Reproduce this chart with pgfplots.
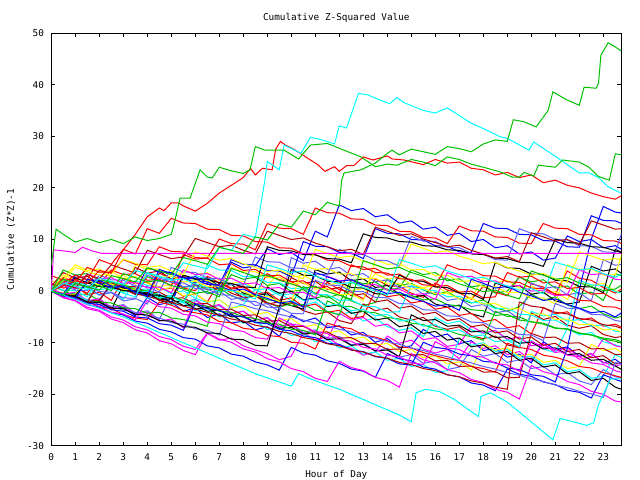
\documentclass[border=0pt]{standalone}
\usepackage{fontspec}
\setmainfont{DejaVu Sans Mono}
\usepackage{pgfplots}
\pgfplotsset{compat=1.18}
\definecolor{gred}{HTML}{FF0000}
\definecolor{ggreen}{HTML}{00C000}
\definecolor{gblue}{HTML}{0000FF}
\definecolor{gmag}{HTML}{FF00FF}
\definecolor{gcyan}{HTML}{00FFFF}
\definecolor{gdred}{HTML}{B00000}
\definecolor{gyel}{HTML}{FFFF00}
\definecolor{gblack}{HTML}{000000}
\definecolor{glblue}{HTML}{6060FF}
\newcommand{\W}[2]{\addplot[#1] table[x expr=\coordindex*0.5, y index=0, header=false, row sep=\\] {#2};}
\newcommand{\gfont}{\fontsize{9.4}{11}\selectfont}
\begin{document}
\gfont
\begin{tikzpicture}
\useasboundingbox (0,0) rectangle (640bp,480bp);
\begin{axis}[at={(51.3bp,34bp)}, anchor=south west, scale only axis,
  width=570bp, height=413bp,
  xmin=0, xmax=23.75, ymin=-30, ymax=50,
  xtick={0,...,23}, ytick={-30,-20,-10,0,10,20,30,40,50},
  yticklabels={-30,-20,-10,0,10,20,30,40,50},
  /pgf/number format/assume math mode=true,
  tick align=inside, major tick length=4bp,
  every tick/.style={black, line width=1bp},
  axis line style={line width=1bp},
  tick label style={font=\gfont},
  xticklabel style={yshift=-4bp},
  yticklabel style={xshift=-4bp},
  title={Cumulative Z-Squared Value},
  title style={font=\gfont, at={(axis description cs:0.5,1.022)}, anchor=center},
  xlabel={Hour of Day},
  xlabel style={font=\gfont, at={(axis description cs:0.5,-0.07)}, anchor=center},
  ylabel={Cumulative (Z*Z)-1},
  ylabel style={font=\gfont, at={(axis description cs:-0.071,0.5)}, anchor=center},
  every axis plot/.append style={line width=1bp, mark=none},
]
% background walks, half-hour steps
\W{gred}{0.8\\1.9\\0.7\\-0.4\\2.6\\1.3\\0.9\\-0.5\\3.6\\2.1\\1.8\\0.6\\0.1\\2.9\\1.6\\0.4\\0.8\\-0.7\\3.4\\2.2\\1.9\\0.5\\-0.6\\1.7\\0.3\\-0.2\\-1.5\\2.4\\1.1\\0.9\\-0.4\\-1.2\\1.6\\0.2\\-0.3\\-1.6\\0.9\\-0.2\\-0.9\\2.8\\1.4\\0.8\\-0.6\\3.9\\2.5\\2.1\\0.7\\-0.4\\1.2\\}
\W{ggreen}{1\\0.1\\-0.9\\-0.5\\-1.8\\1.2\\0.4\\0.9\\-0.6\\-1.5\\-0.8\\-2.1\\1.4\\0.2\\0.6\\-0.9\\-1.6\\-0.8\\-2.2\\-3.1\\-2.4\\0.9\\-0.4\\-1.3\\-0.6\\-1.9\\-2.8\\-2.2\\2.4\\1.1\\1.5\\0.2\\-0.7\\-0.1\\-1.5\\-2.3\\-1.7\\-3.2\\-3.9\\-3\\-0.6\\-1.8\\-1.1\\-2.7\\-3.4\\-2.9\\-4.4\\-5.2\\-4.6\\}
\W{gblue}{0\\-1.1\\-0.6\\-2.3\\-1.8\\-3.5\\-3.1\\-4.8\\-1.2\\-2.6\\-2.1\\-3.9\\-3.3\\-5.1\\-4.4\\-6.2\\-5.8\\-7.5\\-6.9\\-8.8\\-4.6\\-5.9\\-5.2\\-7.1\\-6.7\\-8.5\\-8\\-9.9\\-9.2\\-11\\-10.6\\-7.4\\-8.9\\-8.3\\-10.2\\-9.6\\-11.5\\-11.1\\-12.8\\-12.2\\-13.9\\-9.8\\-11.3\\-10.8\\-12.6\\-12.1\\-13.9\\-13.2\\-15\\}
\W{gmag}{0\\-1.3\\-1.9\\-3.4\\-3.9\\-5.4\\-6.1\\-7.5\\-8.1\\-9.6\\-10.2\\-11.5\\-12.3\\-8.2\\-9.5\\-9.1\\-10.6\\-11.4\\-12.1\\-13.3\\-12.6\\-8.1\\-9.4\\-8.9\\-10.5\\-11.1\\-12.4\\-11.8\\-8.7\\-10.1\\-9.5\\-11.2\\-12\\-11.3\\-13.1\\-9.8\\-11.1\\-10.6\\-12.3\\-11.7\\-13.4\\-10.2\\-11.6\\-11\\-12.7\\-12.1\\-13.8\\-14.5\\-13.9\\}
\W{gcyan}{0.5\\1.8\\0.9\\0.6\\-0.8\\-0.2\\-1.6\\2\\1.1\\0.8\\-0.5\\0.1\\-1.4\\-2.2\\-1.7\\-3.3\\-2.6\\0.4\\-0.9\\-0.3\\-1.9\\-2.8\\-2.1\\-3.9\\-4.6\\-4\\-5.8\\-5.2\\-6.9\\-7.6\\-7.1\\-8.8\\-5.1\\-6.3\\-5.8\\-7.5\\-8.2\\-7.7\\-9.4\\-10.1\\-9.6\\-11.2\\-11.9\\-7.2\\-8.5\\-8\\-9.8\\-10.4\\-11.1\\}
\W{gdred}{0\\-0.6\\3.1\\2.2\\1.9\\0.6\\1.1\\-0.3\\-1.1\\3.5\\2.4\\2.9\\1.3\\0.6\\1.2\\-0.4\\-1.2\\-0.7\\-2.3\\-2.9\\-2.2\\-3.8\\-4.5\\-4\\-5.7\\-6.3\\-2.5\\-3.8\\-3.3\\-5\\-5.6\\-5.1\\-6.8\\-7.4\\-6.9\\-8.6\\-9.2\\-8.7\\-10.4\\-11\\-4.2\\-5.5\\-4.9\\-6.6\\-7.2\\-6.7\\-8.4\\-9\\-8.6\\}
\W{gyel}{2\\1.2\\1.6\\4.5\\3.6\\3.9\\2.4\\2.8\\1.5\\0.9\\1.3\\4.1\\3.2\\3.6\\2.1\\1.5\\1.9\\0.4\\0.8\\3.9\\2.7\\3.1\\1.8\\1.2\\1.6\\0.1\\0.5\\3.4\\2.3\\2.7\\1.3\\0.7\\1.1\\-0.4\\0\\-1.5\\2.6\\1.7\\2.1\\0.6\\1\\-0.5\\-0.1\\-1.6\\2.1\\1.1\\1.5\\0\\-0.6\\}
\W{gblack}{0\\-0.9\\-0.5\\-2.1\\1.6\\0.7\\1.1\\-0.6\\-0.1\\-1.8\\-2.4\\3.1\\2.2\\2.6\\0.9\\1.3\\-0.4\\-0.9\\-0.5\\-2.2\\-2.8\\-3.5\\4.2\\3.3\\3.7\\2\\2.4\\0.7\\1.1\\-0.6\\-1.2\\-0.8\\-2.5\\-3.1\\-2.7\\-4.4\\-5\\1.6\\0.7\\1.1\\-0.6\\-0.2\\-1.9\\-2.5\\-2.1\\4.8\\3.9\\4.3\\2.6\\}
\W{glblue}{0.2\\-0.7\\-0.3\\-1.9\\-1.5\\-3.1\\-2.6\\-4.3\\-3.8\\-5.5\\-0.8\\-2.1\\-1.6\\-3.2\\-2.8\\-4.4\\-3.9\\-5.6\\-5.1\\-6.8\\-6.3\\-8\\-7.5\\-9.2\\-8.8\\-10.4\\-10\\-11.6\\-11.1\\-12.8\\-12.3\\-14\\-13.5\\-15.2\\-14.7\\-11.3\\-12.6\\-12.1\\-13.8\\-13.3\\-15\\-14.6\\-16.2\\-15.8\\-17.4\\-18.1\\-15.2\\-16.6\\-16.9\\}
\W{gred}{1.5\\0.6\\1\\-0.7\\-0.2\\-1.8\\2.5\\1.4\\1.8\\0.2\\0.6\\-1\\-0.5\\-2.1\\1.7\\0.6\\1\\-0.6\\-0.2\\-1.8\\-1.3\\-3\\-2.5\\-4.1\\-3.7\\-5.3\\-4.9\\0.1\\-1.1\\-0.7\\-2.3\\-1.9\\-3.5\\-3.1\\-4.7\\-4.3\\-5.9\\-5.5\\-7.1\\-6.7\\-8.3\\-3.2\\-4.4\\-4\\-5.6\\-5.2\\-6.8\\-6.4\\-7.6\\}
\W{ggreen}{0\\-0.8\\-0.4\\2\\1.1\\1.5\\-0.1\\0.3\\2.8\\1.9\\2.3\\0.7\\1.1\\-0.5\\-0.1\\3.2\\2.3\\2.7\\1.1\\1.5\\-0.1\\0.3\\-1.3\\-0.9\\-2.5\\2.3\\1.4\\1.8\\0.2\\0.6\\4.1\\3.2\\3.6\\2\\2.4\\0.8\\1.2\\-0.4\\0\\2.7\\1.8\\2.2\\0.6\\1\\-0.6\\-0.2\\-1.8\\3.4\\2.5\\}
\W{gblue}{0\\-1\\-0.6\\-2.2\\-1.8\\1.3\\0.2\\0.6\\-1\\-0.6\\-2.2\\2.7\\1.6\\2\\0.4\\5.6\\4.5\\4.9\\8.2\\7.1\\7.5\\5.9\\11.6\\10.5\\16.7\\15.6\\16\\14.4\\14.8\\13.2\\13.6\\12\\12.4\\10.8\\11.2\\9.6\\10\\8.4\\8.8\\7.2\\7.6\\6\\6.4\\10.7\\9.6\\10\\8.4\\8.8\\7.4\\}
\W{gmag}{0.5\\-0.6\\-0.2\\-1.9\\-1.5\\-3.2\\-2.8\\-4.5\\-4.1\\-5.8\\-5.4\\-7.1\\-1.8\\-3.1\\-2.6\\-4.3\\-3.9\\-5.6\\-5.2\\-6.9\\-6.5\\-8.2\\-7.8\\-9.5\\-4.3\\-5.6\\-5.1\\-6.8\\-6.4\\-8.1\\-7.7\\-9.4\\-9\\-10.7\\-10.3\\-6.8\\-8.1\\-7.6\\-9.3\\-8.9\\-10.6\\-10.2\\-11.9\\-11.5\\-13.2\\-12.8\\-9.2\\-10.6\\-11\\}
\W{gcyan}{0\\-1\\-0.5\\2.1\\1\\1.4\\-0.2\\0.2\\-1.4\\-1\\-2.6\\-2.2\\-3.8\\-3.4\\-5\\-4.6\\-6.2\\-5.8\\-7.4\\-7\\-8.6\\-8.2\\-9.8\\-9.4\\-11\\-10.6\\-12.2\\-11.8\\-13.4\\-13\\-14.6\\-14.2\\-15.8\\-15.4\\-9.2\\-10.5\\-10\\-11.7\\-11.3\\-13\\-12.6\\-14.3\\-13.9\\-15.6\\-15.2\\-16.9\\-16.5\\-12.3\\-13.5\\}
\W{gdred}{1\\3.6\\2.5\\2.9\\1.3\\1.7\\0.1\\4.6\\3.5\\3.9\\2.3\\2.7\\1.1\\1.5\\-0.1\\0.3\\-1.3\\-0.9\\-2.5\\-2.1\\2.6\\1.5\\1.9\\0.3\\0.7\\-0.9\\-0.5\\-2.1\\-1.7\\-3.3\\-2.9\\-4.5\\-4.1\\-5.7\\-5.3\\-6.9\\-6.5\\-8.1\\-7.7\\-9.3\\-8.9\\-10.5\\-10.1\\-11.7\\-11.3\\-12.9\\-12.5\\-14.1\\-13.7\\}
\W{gyel}{0\\2.6\\5.1\\4\\4.3\\2.7\\3.1\\1.5\\1.9\\0.3\\0.7\\-0.9\\-0.5\\-2.1\\-1.7\\-3.3\\-2.9\\-4.5\\-4.1\\-5.7\\-5.3\\-6.9\\-6.5\\-8.1\\-7.7\\-9.3\\-8.9\\-10.5\\-10.1\\-11.7\\-11.3\\-12.9\\-12.5\\-14.1\\-13.7\\-15.3\\-10.2\\-11.4\\-11\\-12.6\\-12.2\\-13.8\\-13.4\\-15\\-14.6\\-10.3\\-11.5\\-11.1\\-12.6\\}
\W{gblack}{0\\-1\\-0.6\\-2.3\\-1.9\\-3.6\\1.2\\0.1\\-0.3\\-1.1\\-2.2\\-1.8\\-3.5\\-3.1\\-4.8\\-4.4\\-6.1\\-5.7\\0.8\\-0.4\\0\\-1.7\\-1.3\\-3\\-2.6\\-4.3\\-3.9\\-5.6\\-5.2\\-6.9\\-6.5\\-8.2\\-7.8\\-9.5\\-9.1\\-10.8\\-10.4\\-12.1\\-11.7\\-13.4\\-13\\-14.7\\-14.3\\-16\\-15.6\\-17.3\\-16.9\\-18.6\\-19.4\\}
\W{glblue}{0\\1.6\\0.5\\0.9\\-0.7\\-0.3\\-1.9\\-1.5\\3.1\\2\\2.4\\0.8\\1.2\\-0.4\\0\\-1.6\\-1.2\\-2.8\\-2.4\\-4\\6.5\\5.4\\5.8\\4.2\\4.6\\3\\3.4\\1.8\\2.2\\0.6\\1\\-0.6\\-0.2\\-1.8\\-1.4\\-3\\-2.6\\-4.2\\-3.8\\-5.4\\1.6\\0.5\\0.9\\-0.7\\-0.3\\-1.9\\6.1\\5\\5.4\\}
\W{gred}{0\\-0.4\\-1.6\\-1.9\\-3.1\\-3.3\\-4.6\\-5.2\\-5.5\\-2.1\\-2.7\\-3.8\\-4.2\\-4.6\\-5.9\\-6.1\\-7.2\\-7.5\\-8.6\\-8.8\\-9.9\\-10.1\\-11.2\\-6.2\\-6.9\\-7.3\\-8.5\\-8.9\\-9.6\\-10.8\\-11\\-11.9\\-12.5\\-13.1\\-13.4\\-14.6\\-15\\-15.7\\-10.1\\-10.9\\-11.3\\-12.4\\-12.8\\-13.5\\-14.6\\-14.9\\-15.8\\-16.4\\-17\\}
\W{ggreen}{0\\-0.7\\-0.9\\-1.8\\-2.1\\-2.3\\-3.2\\-3.4\\-4.3\\-4.1\\-5.2\\-5.5\\-6.1\\-6.8\\0.6\\0.2\\-0.7\\-0.8\\-1.7\\-1.9\\-2.8\\-2.6\\-3.7\\-3.9\\-4.6\\1.7\\1.2\\0.3\\0.4\\-0.6\\-0.8\\-1.7\\-1.5\\-2.6\\-2.9\\-3.6\\-3.8\\-4.7\\-4.5\\-5.6\\-5.9\\-6.4\\-7.2\\-7.3\\-8.1\\-8.5\\-9.1\\-9.4\\-10.2\\}
\W{gblue}{0\\-0.9\\-1.4\\-2.6\\-3.1\\-4.2\\-4.6\\-5.8\\-6.2\\-7.4\\-7.9\\-9\\-9.3\\-10.6\\-11\\-12.2\\-12.6\\-13.7\\-14.3\\-15.3\\-10.9\\-12\\-12.4\\-13.5\\-14\\-15.1\\-15.5\\-16.7\\-12.1\\-13.1\\-13.5\\-14.7\\-15.1\\-16.2\\-16.6\\-17.8\\-18.2\\-19.3\\-15.1\\-16.1\\-16.5\\-17.6\\-18.1\\-19.2\\-19.6\\-20.7\\-16.2\\-17.1\\-17.9\\}
\W{gmag}{0\\-1.2\\-1.8\\-3.1\\-3.7\\-5\\-5.6\\-6.9\\-7.5\\-8.8\\-9.4\\-10.7\\-11.3\\-8.1\\-9.3\\-9.9\\-11.2\\-11.8\\-13.1\\-13.7\\-15\\-15.6\\-16.9\\-17.5\\-13.6\\-14.8\\-15.4\\-16.7\\-17.3\\-18.6\\-12.1\\-13.3\\-13.9\\-15.2\\-15.8\\-17.1\\-17.7\\-19\\-19.6\\-20.9\\-14.4\\-15.6\\-16.2\\-17.5\\-18.1\\-19.4\\-20\\-21.3\\-21.6\\}
\W{gcyan}{1\\0.2\\0.1\\-1.1\\2.6\\1.6\\1.5\\0.3\\0.4\\-0.8\\-0.9\\-2\\-1.9\\5.1\\4.1\\4\\2.8\\2.9\\1.7\\1.6\\0.5\\0.6\\-0.6\\-0.7\\-1.8\\-1.7\\-2.9\\-3\\-4.1\\-4\\1.1\\0.2\\0.1\\-1.1\\-1\\-2.2\\-2.3\\-3.4\\-3.3\\-4.5\\-4.6\\-5.7\\-5.6\\-6.8\\2.1\\1.2\\1.1\\-0.1\\-0.6\\}
\W{gdred}{0\\-0.8\\-0.7\\-1.9\\-1.8\\1.6\\0.8\\0.9\\-0.3\\-0.2\\-1.4\\-1.3\\-2.5\\-2.4\\-3.6\\-3.5\\-4.7\\-4.6\\-5.8\\-5.7\\-6.9\\-6.8\\-8\\-7.9\\-9.1\\-9\\-10.2\\-10.1\\-11.3\\-11.2\\-12.4\\-12.3\\-13.5\\-13.4\\-14.6\\-14.5\\-15.7\\-15.6\\-16.8\\-16.7\\-8.2\\-9\\-8.9\\-10.1\\-10\\-11.2\\-11.1\\-12.3\\-12.2\\}
\W{gyel}{0\\3.1\\2.2\\2.3\\1.1\\1.2\\0\\5.1\\4.2\\4.3\\3.1\\3.2\\2\\2.1\\0.9\\4.6\\3.7\\3.8\\2.6\\2.7\\1.5\\1.6\\0.4\\0.5\\-0.7\\-0.6\\-1.8\\6.1\\5.2\\5.3\\4.1\\4.2\\3\\3.1\\1.9\\2\\0.8\\0.9\\-0.3\\-0.2\\-1.4\\-1.3\\-2.5\\5.1\\4.2\\4.3\\3.1\\3.2\\10.5\\}
\W{gblack}{0\\-0.9\\2.6\\1.6\\1.8\\0.5\\0.7\\-0.6\\-0.4\\-1.7\\-1.5\\-2.8\\-2.6\\-3.9\\-3.7\\-5\\-4.8\\-6.1\\-5.9\\-7.2\\-7\\-8.3\\-8.1\\-9.4\\-9.2\\-10.5\\-10.3\\-11.6\\-11.4\\-12.7\\-4.6\\-5.7\\-5.5\\-6.8\\-6.6\\-7.9\\-7.7\\-9\\-8.8\\-10.1\\-9.9\\-11.2\\-11\\-12.3\\-12.1\\-13.4\\-13.2\\-14.5\\-15.8\\}
\W{glblue}{0\\-0.5\\-1.4\\-1.6\\-2.6\\-2.9\\-3.7\\-4.1\\-4.9\\-5.2\\-6.1\\-6.4\\-7.3\\-7.6\\-8.5\\-2.1\\-2.7\\-3.4\\-3.8\\-4.5\\-5\\-5.6\\-6.2\\-6.7\\-7.4\\-7.9\\-8.6\\-9.1\\-9.8\\-10.3\\-11\\-11.5\\-12.2\\-12.7\\-13.4\\-13.9\\-14.6\\-15.1\\-15.8\\-16.3\\-17\\-17.5\\-18.2\\-18.7\\-19.4\\-19.9\\-20.6\\-13.8\\-14.5\\}
\W{gred}{3\\2.1\\2.3\\1\\1.2\\4.1\\3.2\\3.4\\2.1\\2.3\\1\\7.1\\6.2\\6.4\\5.1\\5.3\\4\\4.2\\2.9\\3.1\\1.8\\2\\0.7\\0.9\\-0.4\\5.1\\4.2\\4.4\\3.1\\3.3\\2\\2.2\\0.9\\1.1\\-0.2\\0\\-1.3\\-1.1\\3.6\\2.7\\2.9\\1.6\\1.8\\0.5\\0.7\\-0.6\\-0.4\\-1.7\\-2.1\\}
\W{ggreen}{0\\4.1\\3.1\\3.4\\2.1\\1.8\\1.2\\0.3\\0.1\\-0.9\\-1.2\\-1.8\\-2.7\\-2.9\\-3.9\\-4.1\\-5\\-5.3\\-6.2\\-6.4\\-7.4\\-7.6\\-8.5\\-1.9\\-2.9\\-3\\-4\\-4.2\\-5.1\\-5.4\\-6.2\\-6.5\\-7.3\\-7.6\\-8.4\\-8.8\\-9.5\\-3.9\\-4.9\\-5\\-6\\-6.2\\-7.1\\-7.4\\-8.2\\-8.5\\-9.3\\-9.7\\-10.4\\}
\W{gblue}{0\\-1\\-1.2\\-2.3\\-2.6\\-3.6\\-3.9\\-5\\-5.2\\-6.3\\-6.6\\-7.6\\-2.4\\-3.4\\-3.7\\-4.7\\-5\\-6.1\\-6.3\\-7.4\\-7.7\\-8.7\\-9\\-10.1\\-10.3\\-11.4\\-11.7\\-12.7\\-13\\-14.1\\-14.3\\-9.9\\-10.9\\-11.2\\-12.2\\-12.5\\-13.6\\-13.8\\-14.9\\-15.2\\-16.2\\-16.5\\-17.6\\-11.1\\0.2\\10.1\\16.4\\15.3\\15\\}
\W{gmag}{0\\-1.1\\-1.4\\-2.6\\-2.9\\-4.1\\-4.4\\-5.6\\-1.8\\-3\\-3.3\\-4.5\\-4.8\\-6\\-6.3\\-7.5\\-7.8\\-9\\-9.3\\-5.2\\-6.4\\-6.7\\-7.9\\-8.2\\-9.4\\-9.7\\-10.9\\-11.2\\-12.4\\-12.7\\-13.9\\-14.2\\-9.8\\-11\\-11.3\\-12.5\\-12.8\\-14\\-14.3\\-15.5\\-9.7\\-10.9\\-11.2\\-12.4\\-12.7\\-13.9\\-14.2\\-15.4\\-16.1\\}
\W{gcyan}{0\\-0.9\\-0.6\\-1.9\\1.6\\0.7\\1\\-0.3\\0\\-1.3\\-1\\-2.3\\3.1\\2.2\\2.5\\1.2\\1.5\\0.2\\0.5\\-0.8\\-0.5\\-1.8\\-1.5\\-2.8\\-2.5\\-3.8\\-3.5\\-4.8\\-4.5\\-5.8\\-5.5\\-6.8\\-6.5\\-7.8\\-7.5\\-8.8\\-8.5\\-9.8\\-9.5\\-10.8\\-3.9\\-4.8\\-4.5\\-5.8\\-5.5\\-6.8\\-6.5\\-7.8\\-7.9\\}
\W{gdred}{0\\-0.7\\-1\\-2.1\\1.6\\0.6\\0.4\\-0.6\\-0.9\\-1.7\\-2.2\\-2.9\\-3.5\\-4.1\\-4.7\\-5.4\\-5.8\\-6.6\\-7\\-7.8\\-8.2\\-9\\-9.4\\-10.2\\-10.6\\-11.4\\-11.8\\-12.6\\-13\\-13.8\\-14.2\\-15\\-15.4\\-16.2\\-16.6\\-17.4\\-17.8\\-18.6\\-19\\-2.1\\-2.9\\-3.2\\-4.1\\-4.4\\-5.3\\-5.6\\-6.5\\-6.8\\-7.6\\}
\W{gyel}{0\\-0.8\\-0.6\\2.1\\1.2\\1.4\\0.3\\0.4\\3.6\\2.7\\2.9\\1.8\\1.9\\0.9\\1\\-0.1\\0\\-1.1\\-1\\-2\\-2.1\\5.1\\4.2\\4.4\\3.3\\3.4\\2.4\\2.5\\1.4\\1.5\\0.4\\0.6\\-0.5\\-0.4\\-1.5\\-1.4\\-2.5\\-2.4\\-3.5\\-3.4\\-4.5\\-4.4\\-5.5\\-5.4\\-6.5\\-6.4\\-7.5\\-7.4\\-8.4\\}
\W{gblack}{0\\-0.9\\-1\\-2.1\\-2.2\\-3.3\\-3.4\\-4.5\\-4.6\\-5.7\\-5.8\\-6.9\\-7\\-8.1\\-8.2\\-9.3\\-9.4\\-10.5\\-10.6\\-3.1\\4.2\\3.1\\3\\1.9\\1.8\\0.7\\0.6\\-0.5\\-0.6\\3.1\\2\\1.9\\0.8\\0.7\\-0.4\\-0.5\\-1.6\\5.6\\4.5\\4.4\\3.3\\3.2\\2.1\\2\\0.9\\0.8\\-0.3\\8.1\\7\\}
\W{glblue}{0\\2.1\\1.2\\1.1\\-0.1\\-0.2\\-1.3\\-1.4\\-2.5\\2.6\\1.7\\1.6\\0.5\\0.4\\-0.7\\-0.8\\-1.9\\-2\\-3.1\\-3.2\\-4.3\\-4.4\\2.1\\1.2\\1.1\\0\\-0.1\\-1.2\\-1.3\\-2.4\\-2.5\\-3.6\\-3.7\\-4.8\\-4.9\\-6\\-6.1\\-7.2\\-7.3\\-8.4\\-8.5\\-9.6\\-2.4\\-3.3\\-3.4\\-4.5\\-4.6\\-5.7\\-6\\}
\W{gred}{0\\2.6\\1.7\\4.6\\3.7\\3.6\\6.1\\5.2\\5.1\\8.6\\7.7\\7.6\\6.5\\6.4\\10.1\\9.2\\9.1\\8\\13.1\\12.2\\12.1\\11\\16.1\\15.2\\15.1\\14\\13.9\\12.8\\12.7\\11.6\\11.5\\10.4\\10.3\\9.2\\12.6\\11.7\\11.6\\10.5\\10.4\\9.3\\9.2\\13.1\\12.2\\12.1\\11\\10.9\\9.8\\9.7\\8.8\\}
\W{gblue}{0\\-0.9\\3.1\\2.2\\2.1\\1\\0.9\\-0.2\\4.6\\3.7\\3.6\\2.5\\2.4\\1.3\\1.2\\6.1\\5.2\\5.1\\4\\3.9\\2.8\\9.6\\8.7\\8.6\\7.5\\7.4\\6.3\\12.1\\11.2\\11.1\\10\\9.9\\8.8\\8.7\\7.6\\7.5\\13.1\\12.2\\12.1\\11\\10.9\\9.8\\9.7\\8.6\\8.5\\14.6\\13.7\\13.6\\12.7\\}
\W{glblue}{0\\1.1\\0.2\\0.1\\3.1\\2.2\\2.1\\1\\0.9\\-0.2\\4.6\\3.7\\3.6\\2.5\\2.4\\1.3\\1.2\\6.6\\5.7\\5.6\\4.5\\4.4\\3.3\\3.2\\8.1\\7.2\\7.1\\6\\5.9\\4.8\\10.6\\9.7\\9.6\\8.5\\8.4\\7.3\\7.2\\6.1\\6\\12.1\\11.2\\11.1\\10\\9.9\\8.8\\8.7\\7.6\\7.5\\14.5\\}
\W{gred}{0\\1.6\\3.1\\2.2\\6.1\\5.2\\8.1\\7.2\\12.1\\11.2\\14.1\\13.2\\13.1\\12\\11.9\\10.8\\10.7\\9.6\\9.5\\8.4\\8.3\\7.2\\7.1\\6\\5.9\\4.8\\4.7\\3.6\\3.5\\2.4\\2.3\\1.2\\1.1\\5.1\\4.2\\4.1\\3\\2.9\\1.8\\1.7\\0.6\\0.5\\-0.6\\-0.7\\-1.8\\-1.9\\-3\\-3.1\\-4\\}
\W{gblack}{0\\-0.7\\-0.8\\1.6\\0.9\\0.8\\0.1\\0\\-0.7\\-0.8\\-1.5\\3.1\\2.4\\2.3\\1.6\\1.5\\0.8\\0.7\\8.6\\7.9\\7.8\\7.1\\7\\6.3\\6.2\\5.5\\11.1\\10.4\\10.3\\9.6\\9.5\\8.8\\8.7\\8\\7.9\\7.2\\7.1\\6.4\\6.3\\5.6\\5.5\\4.8\\10.1\\9.4\\9.3\\8.6\\8.5\\7.8\\7.1\\}
\W{gmag}{0\\1.2\\0.5\\3.3\\2.4\\2.6\\1.5\\1.7\\0.6\\0.8\\-0.3\\4.1\\3.2\\3.4\\2.3\\2.5\\1.4\\1.6\\0.5\\0.7\\-0.4\\-0.2\\-1.3\\2.9\\2\\2.2\\1.1\\1.3\\0.2\\0.4\\-0.7\\-0.5\\-1.6\\3.6\\2.7\\2.9\\1.8\\2\\0.9\\1.1\\0\\0.2\\-0.9\\-0.7\\4.1\\3.2\\3.4\\2.3\\2.1\\}
\W{gblue}{0\\-0.6\\-1.5\\2.3\\1.5\\0.6\\0.9\\-0.2\\-0.9\\4.2\\3.4\\2.5\\2.8\\1.7\\1\\0.1\\0.4\\-0.7\\-1.4\\-2.3\\-2\\-3.1\\3.6\\2.8\\1.9\\2.2\\1.1\\0.4\\-0.5\\-0.2\\-1.3\\-2\\-2.9\\-2.6\\-3.7\\2.3\\1.5\\0.6\\0.9\\-0.2\\-0.9\\-1.8\\-1.5\\-2.6\\-3.3\\-4.2\\-3.9\\-5\\-3.4\\}
\W{gyel}{0\\2.1\\4.6\\3.8\\3.1\\3.3\\6.2\\5.4\\4.6\\4.9\\3.9\\3.2\\7.6\\6.8\\6\\6.3\\5.3\\4.6\\3.8\\4.1\\3.1\\2.4\\8.1\\7.3\\6.5\\6.8\\5.8\\5.1\\4.3\\4.6\\9.1\\8.3\\7.5\\7.8\\6.8\\6.1\\5.3\\5.6\\4.6\\3.9\\3.1\\3.4\\2.4\\1.7\\7.6\\6.8\\6\\6.3\\5.8\\}
\W{gcyan}{0\\-0.7\\1.8\\1.1\\0.3\\0.6\\-0.4\\-1.1\\3.6\\2.9\\2.1\\2.4\\1.4\\0.7\\-0.1\\0.2\\-0.8\\-1.5\\5.1\\4.4\\3.6\\3.9\\2.9\\2.2\\1.4\\1.7\\0.7\\0\\-0.8\\6.1\\5.4\\4.6\\4.9\\3.9\\3.2\\2.4\\2.7\\1.7\\1\\0.2\\0.5\\-0.5\\5.6\\4.9\\4.1\\4.4\\3.4\\2.7\\3.9\\}
\W{gdred}{0\\1.4\\0.6\\3.2\\2.4\\5.1\\4.3\\3.5\\7.9\\7.1\\6.3\\6.6\\10.2\\9.4\\8.6\\8.9\\7.9\\7.2\\11.6\\10.8\\10\\10.3\\9.3\\8.6\\7.8\\8.1\\7.1\\12.4\\11.6\\10.8\\11.1\\10.1\\9.4\\8.6\\8.9\\7.9\\7.2\\6.4\\6.7\\5.7\\11.3\\10.5\\9.7\\10\\9\\13.6\\12.8\\12\\12.2\\}
\W{ggreen}{0\\2.3\\1.5\\0.8\\1.1\\0.1\\3.4\\2.6\\1.8\\2.1\\1.1\\0.4\\-0.4\\-0.1\\-1.1\\4.4\\3.6\\2.8\\3.1\\2.1\\1.4\\0.6\\0.9\\-0.1\\-0.8\\-1.6\\5.9\\5.1\\4.3\\4.6\\3.6\\2.9\\2.1\\2.4\\1.4\\0.7\\-0.1\\0.2\\-0.8\\-1.5\\3.9\\3.1\\2.3\\2.6\\1.6\\0.9\\0.1\\0.4\\1.9\\}
% prominent walks
\addplot[gmag] coordinates {(0,0) (0.1,8) (0.5,7.8) (1,7.5) (1.3,8.5) (1.7,7.8) (2.1,7.3) (23.75,7.3)};
\addplot[gred] coordinates {(0,0) (0.5,1) (1,2) (1.5,1.5) (2,4) (2.5,3.5) (3,8) (3.5,11) (4,14.4) (4.5,16.1) (4.7,15.6) (5,17.1) (5.3,17.1) (5.5,16.5) (6,15.5) (6.5,17) (7,19) (7.5,20.5) (8,22) (8.3,23.8) (8.5,22.5) (8.8,23.8) (9.2,23.5) (9.35,27.5) (9.55,29) (9.75,28.3) (10.1,27.5) (11.1,24.5) (11.4,23.2) (11.8,24.1) (12,23.2) (12.3,24.3) (12.6,24.3) (13,26) (13.4,25.4) (14,26.2) (14.2,25.6) (14.7,25.4) (15.5,24.5) (16,25.5) (16.5,24.8) (17,25) (17.5,23.8) (18,23.5) (18.5,22.5) (19,23) (19.5,22) (20,22.5) (20.5,21) (21,21.5) (21.5,20.5) (22,20) (22.5,19) (23,18.3) (23.5,17.8) (23.75,18.5)};
\addplot[gcyan] coordinates {(0,0) (0.5,-0.8) (1,-1.6) (1.5,-2.5) (2,-3.3) (2.5,-4.2) (3,-5) (3.5,-6) (4,-7) (4.5,-8) (5,-9) (5.5,-10) (6,-11) (6.5,-12) (7,-13) (7.5,-14) (8,-15) (8.5,-16) (9,-16.8) (9.5,-17.6) (10,-18.4) (10.3,-16) (10.8,-17) (11.5,-18.2) (12,-19) (12.5,-20) (13,-21) (13.5,-22) (14,-23) (14.5,-24) (15,-25.3) (15.2,-19.7) (15.6,-19) (16.2,-19.5) (16.8,-21) (17.4,-23) (17.8,-24.3) (17.9,-20.4) (18.3,-19.7) (19,-21.5) (19.6,-23.8) (20.3,-26.5) (20.9,-28.8) (21.2,-24.7) (21.5,-25) (22.3,-26) (22.6,-25.5) (22.8,-22) (23.1,-19) (23.3,-17) (23.75,-17)};
\addplot[gcyan] coordinates {(0,0) (0.5,1.5) (1,0.9) (1.5,0.3) (2,2.5) (2.5,1.9) (3,1.3) (3.5,4) (4,3.4) (4.5,2.8) (5,2.2) (5.5,5.5) (6,4.9) (6.5,4.3) (7,8.5) (7.5,7.9) (8,11) (8.5,10.4) (8.9,21.5) (9,25.1) (9.5,23.5) (9.7,28.3) (10.4,26.7) (10.8,29.8) (11.2,29.4) (11.8,28.5) (12,32) (12.3,31.6) (12.8,38.3) (13.2,38) (13.7,37) (14.1,36.3) (14.4,37.5) (14.7,36.5) (15.5,35) (16,34.5) (16.5,35.5) (17,34) (17.5,32.5) (18,31.5) (18.7,29.9) (19,29.6) (19.9,27.3) (20.1,28.9) (21.1,25.8) (22,22.9) (22.4,22.9) (22.8,22) (23.2,20.2) (23.5,19.5) (23.75,19)};
\addplot[ggreen] coordinates {(0,5) (0.2,12) (0.5,11) (1,9.5) (1.5,10.2) (2,9.4) (2.5,10) (3,9.2) (3.5,10.5) (4,9.8) (4.5,10.2) (5,11) (5.16,13.8) (5.36,18) (5.78,18) (6.2,23.5) (6.5,22.1) (6.7,21.9) (7,24) (7.5,23.3) (8,22.8) (8.28,23.5) (8.5,28) (8.9,27.3) (9.7,27.3) (10.3,25.6) (10.8,28.3) (11.5,28.6) (12.2,27.3) (12.9,26) (13.5,24.1) (14,24.6) (14.4,24.4) (15,25.5) (15.5,25) (16,24.3) (16.5,26) (17,25.5) (17.5,24.6) (18,24) (18.7,23.1) (19.2,22.1) (19.5,22.1) (19.7,23) (20.1,22.3) (20.3,24.4) (21,24) (21.3,25.4) (22,25) (22.4,24) (22.8,22.2) (23.25,21.5) (23.5,26.6) (23.75,26.4)};
\addplot[ggreen] coordinates {(0,0) (0.5,-0.8) (1,1.5) (1.5,0.8) (2,0.2) (2.5,3) (3,2.4) (3.5,1.8) (4,4.5) (4.5,3.9) (5,3.2) (5.5,6.5) (6,5.9) (6.5,5.2) (7,8.5) (7.5,7.9) (8,7.3) (8.5,10.5) (9,9.9) (9.5,13) (10,12.4) (10.5,15.5) (11,14.8) (11.5,17.2) (12,16.5) (12.1,21.5) (12.2,22.9) (12.9,23.5) (13.5,24.8) (14,26.7) (14.2,27.3) (14.5,26.4) (15,27.5) (15.5,27) (16,26.5) (16.5,28) (17,27.6) (17.5,27) (18,28.5) (18.5,29.3) (19,29) (19.25,33.2) (19.7,32.8) (20,32.2) (20.2,31.8) (20.7,35) (20.9,38.6) (21.5,37) (22,36) (22.2,39.5) (22.7,39.3) (22.8,40.3) (22.9,45.7) (23.2,48.1) (23.5,47.3) (23.75,46.5)};
\end{axis}
\end{tikzpicture}
\end{document}
